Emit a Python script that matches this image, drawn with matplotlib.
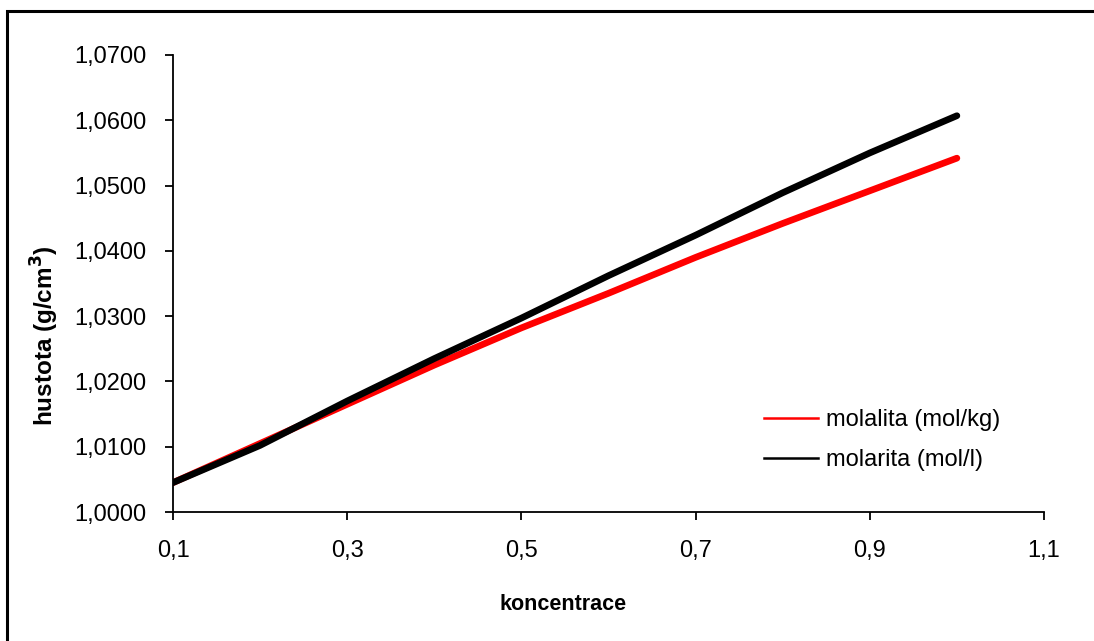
import matplotlib
matplotlib.use("Agg")
import matplotlib.pyplot as plt
from matplotlib.patches import Rectangle
from matplotlib.lines import Line2D
from matplotlib.ticker import FuncFormatter, FixedLocator

plt.rcParams['font.family'] = ['Liberation Sans', 'DejaVu Sans']

conc = [0.1, 0.2, 0.3, 0.4, 0.5, 0.6, 0.7, 0.8, 0.9, 1.0]
molalita = [1.0045, 1.0105, 1.0165, 1.0225, 1.0282, 1.0335, 1.0390, 1.0442, 1.0492, 1.0542]
molarita = [1.0045, 1.0102, 1.0170, 1.0235, 1.0297, 1.0362, 1.0424, 1.0489, 1.0550, 1.0607]
xticks = [0.1, 0.3, 0.5, 0.7, 0.9, 1.1]
yticks = [1.00, 1.01, 1.02, 1.03, 1.04, 1.05, 1.06, 1.07]

W, H = 1094, 641
fig = plt.figure(figsize=(W / 100, H / 100), dpi=100)
ax = fig.add_axes([173 / W, 1 - 512 / H, (1044 - 173) / W, (512 - 55) / H])

ax.plot(conc, molalita, color='#ff0000', lw=4.8, solid_capstyle='round', label='molalita (mol/kg)')
ax.plot(conc, molarita, color='#000000', lw=4.8, solid_capstyle='round', label='molarita (mol/l)')

ax.set_xlim(0.1, 1.1)
ax.set_ylim(1.0, 1.07)
ax.xaxis.set_major_locator(FixedLocator(xticks))
ax.yaxis.set_major_locator(FixedLocator(yticks))
ax.xaxis.set_major_formatter(FuncFormatter(lambda v, p: f"{v:.1f}".replace('.', ',')))
ax.yaxis.set_major_formatter(FuncFormatter(lambda v, p: f"{v:.4f}".replace('.', ',')))
ax.tick_params(axis='both', direction='out', length=6, width=1.3, labelsize=17, colors='black')
ax.tick_params(axis='x', pad=14)
ax.tick_params(axis='y', pad=13)
for s in ['top', 'right']:
    ax.spines[s].set_visible(False)
for s in ['left', 'bottom']:
    ax.spines[s].set_linewidth(1.3)

ax.set_xlabel('koncentrace', fontsize=15.5, fontweight='bold')
ax.set_ylabel('hustota (g/cm$^\\mathbf{3}$)', fontsize=17.5, fontweight='bold')
ax.xaxis.set_label_coords((563 - 173) / 871, (512 - 605) / 457)
ax.yaxis.set_label_coords((45 - 173) / 871, (512 - 336) / 457)
ax.xaxis.label.set_va('center')
ax.yaxis.label.set_va('center')

h1 = Line2D([], [], color='#ff0000', lw=1.8)
h2 = Line2D([], [], color='#000000', lw=1.8)
ax.legend([h1, h2], ['molalita (mol/kg)', 'molarita (mol/l)'], frameon=False,
          fontsize=17, loc='center left',
          bbox_to_anchor=((752 - 173) / (1044 - 173), (512 - 440) / (512 - 55)),
          handlelength=2.3, handletextpad=0.35, labelspacing=0.75, borderpad=0)

fig.patches.append(Rectangle((7 / W, -0.1), 1.2, 1 - 11 / H + 0.1, transform=fig.transFigure,
                             fill=False, edgecolor='black', lw=2.2))

fig.savefig('out.png', dpi=100)
